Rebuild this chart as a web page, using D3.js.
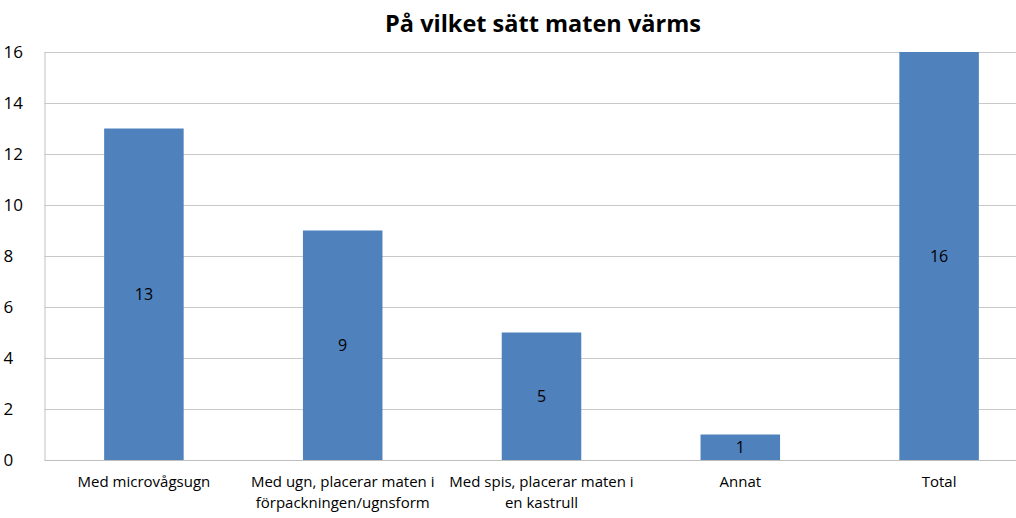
<!DOCTYPE html>
<html><head><meta charset="utf-8">
<script src="https://cdn.jsdelivr.net/npm/d3@7"></script>
<style>body{margin:0;background:#fff}svg{display:block}</style>
</head><body>
<svg id="c" width="1016" height="518"></svg>
<script>
const title = "På vilket sätt maten värms";
const categories = ["Med microvågsugn", "Med ugn, placerar maten i förpackningen/ugnsform", "Med spis, placerar maten i en kastrull", "Annat", "Total"];
const categoryLines = [["Med microvågsugn"], ["Med ugn, placerar maten i", "förpackningen/ugnsform"], ["Med spis, placerar maten i", "en kastrull"], ["Annat"], ["Total"]];
const values = [13, 9, 5, 1, 16];
const yTicks = [0, 2, 4, 6, 8, 10, 12, 14, 16];

(function () {
const svg = d3.select("#c");
const font = "'Open Sans', 'Liberation Sans', sans-serif";
const pLeft = 44.5, pRight = 1038.5, pTop = 52, pBottom = 460;

const x = d3.scaleBand().domain(categories).range([pLeft, pRight]).paddingInner(0.6).paddingOuter(0.3);
const y = d3.scaleLinear().domain([0, 16]).range([pBottom, pTop]);

// gridlines
svg.append("g").selectAll("line").data(yTicks).join("line")
  .attr("x1", pLeft).attr("x2", pRight)
  .attr("y1", d => Math.floor(y(d)) + 0.5).attr("y2", d => Math.floor(y(d)) + 0.5)
  .attr("stroke", d => d === 0 ? "#bfbfbf" : "#c8c8c8").attr("stroke-width", 1);

// y axis
const yAxis = d3.axisLeft(y).tickValues(yTicks).tickSize(0).tickPadding(18);
const yg = svg.append("g").attr("transform", `translate(${pLeft},0)`).call(yAxis);
yg.select(".domain").attr("stroke", "#c0c0c0");
yg.selectAll("text").attr("font-family", font).attr("font-size", 17).attr("fill", "#000").attr("text-anchor", "start").attr("x", -41).attr("dy", "0.35em");

// bars
svg.append("g").selectAll("rect").data(values).join("rect")
  .attr("x", (d, i) => x(categories[i]))
  .attr("width", x.bandwidth())
  .attr("y", d => y(d))
  .attr("height", d => y(0) - y(d))
  .attr("fill", "#4f81bd");

// data labels
svg.append("g").selectAll("text").data(values).join("text")
  .attr("x", (d, i) => x(categories[i]) + x.bandwidth() / 2)
  .attr("y", d => (y(d) + y(0)) / 2)
  .attr("dy", "0.35em")
  .attr("text-anchor", "middle")
  .attr("font-family", font).attr("font-size", 16).attr("fill", "#000")
  .text(d => d);

// x labels
const xl = svg.append("g").selectAll("text").data(categoryLines).join("text")
  .attr("text-anchor", "middle")
  .attr("font-family", font).attr("font-size", 15).attr("fill", "#000")
  .attr("transform", (d, i) => `translate(${x(categories[i]) + x.bandwidth() / 2},487)`);
xl.selectAll("tspan").data(d => d).join("tspan")
  .attr("x", 0).attr("y", (d, i) => i * 21).text(d => d);

// title
svg.append("text").attr("x", 543).attr("y", 32).attr("text-anchor", "middle")
  .attr("font-family", font).attr("font-weight", "bold").attr("font-size", 23.5).attr("fill", "#000")
  .text(title);
})();
</script>
</body></html>
